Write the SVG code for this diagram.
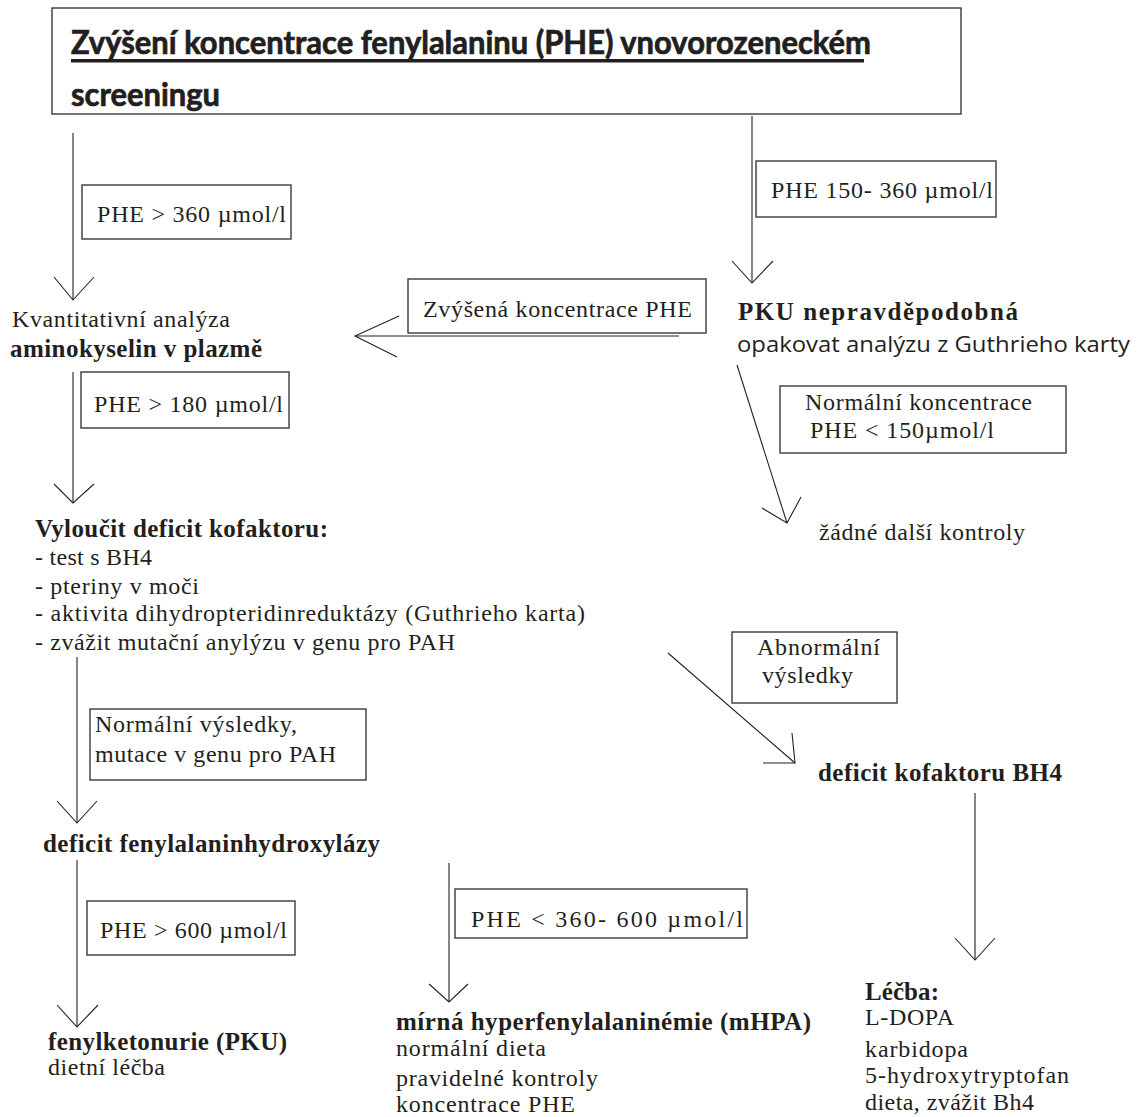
<svg xmlns="http://www.w3.org/2000/svg" width="1147" height="1117" viewBox="0 0 1147 1117">
<style>
  .bg { fill: #ffffff; }
  .box { fill: #ffffff; stroke: #3a3a3a; stroke-width: 1.4; }
  .ln { fill: none; stroke: #222222; stroke-width: 1.1; }
  .head { fill: none; stroke: #222222; stroke-width: 1.1; stroke-linejoin: miter; }
  .t { font-family: "Liberation Serif", "Times New Roman", serif; font-size: 24px; fill: #231f20; }
  .tb { font-family: "Liberation Serif", "Times New Roman", serif; font-size: 25px; font-weight: bold; fill: #231f20; }
  .ts { font-family: "Open Sans", "Noto Sans", sans-serif; font-size: 21px; fill: #231f20; }
  .title { font-family: Lato, "Open Sans", sans-serif; font-size: 32px; font-weight: bold; fill: #231f20; stroke: #231f20; stroke-width: 0.7; }
</style>
<rect class="bg" x="0" y="0" width="1147" height="1117"/>

<g id="connectors">
  <line class="ln" x1="73" y1="133" x2="73" y2="300"/>
  <polyline class="head" points="54,277 73,300 94,277"/>
  <line class="ln" x1="752" y1="116" x2="752" y2="283"/>
  <polyline class="head" points="732,261 752,283 773,261"/>
  <line class="ln" x1="679" y1="336" x2="355" y2="336"/>
  <polyline class="head" points="399,316 355,336 397,357"/>
  <line class="ln" x1="73" y1="372" x2="73" y2="503"/>
  <polyline class="head" points="54,484 73,503 94,484"/>
  <line class="ln" x1="737" y1="365" x2="787" y2="523"/>
  <polyline class="head" points="762,508 787,523 801,497"/>
  <line class="ln" x1="77" y1="657" x2="77" y2="823"/>
  <polyline class="head" points="57,801 77,823 97,801"/>
  <line class="ln" x1="668" y1="653" x2="795" y2="763"/>
  <polyline class="head" points="792,733 795,763 763,763"/>
  <line class="ln" x1="77" y1="860" x2="77" y2="1027"/>
  <polyline class="head" points="57,1005 77,1027 98,1005"/>
  <line class="ln" x1="449" y1="863" x2="449" y2="1002"/>
  <polyline class="head" points="429,984 449,1002 468,984"/>
  <line class="ln" x1="975" y1="793" x2="975" y2="960"/>
  <polyline class="head" points="955,938 975,960 995,938"/>
</g>

<g id="node-title">
  <rect class="box" x="52" y="8" width="909" height="106"/>
  <text class="title" x="71" y="54" textLength="800" lengthAdjust="spacingAndGlyphs">Zvýšení koncentrace fenylalaninu (PHE) vnovorozeneckém</text>
  <rect x="71" y="59" width="793" height="3.5" fill="#231f20"/>
  <text class="title" x="71" y="106" textLength="149" lengthAdjust="spacingAndGlyphs">screeningu</text>
</g>

<g id="label-phe360">
  <rect class="box" x="82" y="185" width="209" height="54"/>
  <text class="t" x="97" y="222" textLength="189">PHE &gt; 360 µmol/l</text>
</g>

<g id="label-phe150-360">
  <rect class="box" x="756" y="161" width="240" height="56"/>
  <text class="t" x="771" y="198" textLength="222">PHE 150- 360 µmol/l</text>
</g>

<g id="node-kvantitativni">
  <text class="t" x="12" y="327" textLength="218">Kvantitativní analýza</text>
  <text class="tb" x="10" y="357" textLength="252">aminokyselin v plazmě</text>
</g>

<g id="label-zvysena">
  <rect class="box" x="408" y="279" width="298" height="54"/>
  <text class="t" x="423" y="317" textLength="269">Zvýšená koncentrace PHE</text>
</g>

<g id="node-pku-nepravdepodobna">
  <text class="tb" x="738" y="320" font-size="27" textLength="280">PKU nepravděpodobná</text>
  <text class="ts" x="737" y="352" textLength="393" lengthAdjust="spacingAndGlyphs">opakovat analýzu z Guthrieho karty</text>
</g>

<g id="label-phe180">
  <rect class="box" x="81" y="372" width="208" height="56"/>
  <text class="t" x="94" y="412" textLength="189">PHE &gt; 180 µmol/l</text>
</g>

<g id="label-normalni-koncentrace">
  <rect class="box" x="780" y="386" width="286" height="67"/>
  <text class="t" x="805" y="410" textLength="227">Normální koncentrace</text>
  <text class="t" x="810" y="438" textLength="184">PHE &lt; 150µmol/l</text>
</g>

<g id="node-zadne-dalsi">
  <text class="t" x="819" y="540" textLength="206">žádné další kontroly</text>
</g>

<g id="node-vyloucit">
  <text class="tb" x="35" y="537" textLength="293">Vyloučit deficit kofaktoru:</text>
  <text class="t" x="35" y="565" textLength="117">- test s BH4</text>
  <text class="t" x="35" y="594" textLength="164">- pteriny v moči</text>
  <text class="t" x="35" y="621" textLength="550">- aktivita dihydropteridinreduktázy (Guthrieho karta)</text>
  <text class="t" x="35" y="650" textLength="420">- zvážit mutační anylýzu v genu pro PAH</text>
</g>

<g id="label-abnormalni">
  <rect class="box" x="732" y="632" width="165" height="71"/>
  <text class="t" x="757" y="655" textLength="123">Abnormální</text>
  <text class="t" x="762" y="683" textLength="91">výsledky</text>
</g>

<g id="node-deficit-bh4">
  <text class="tb" x="818" y="781" textLength="244">deficit kofaktoru BH4</text>
</g>

<g id="label-normalni-vysledky">
  <rect class="box" x="90" y="709" width="276" height="71"/>
  <text class="t" x="95" y="732" textLength="202">Normální výsledky,</text>
  <text class="t" x="95" y="762" textLength="241">mutace v genu pro PAH</text>
</g>

<g id="node-deficit-pah">
  <text class="tb" x="43" y="852" textLength="337">deficit fenylalaninhydroxylázy</text>
</g>

<g id="label-phe600">
  <rect class="box" x="87" y="901" width="208" height="54"/>
  <text class="t" x="100" y="938" textLength="187">PHE &gt; 600 µmol/l</text>
</g>

<g id="label-phe360-600">
  <rect class="box" x="455" y="889" width="292" height="49"/>
  <text class="t" x="471" y="927" textLength="272">PHE &lt; 360- 600 µmol/l</text>
</g>

<g id="node-pku">
  <text class="tb" x="48" y="1050" textLength="239">fenylketonurie (PKU)</text>
  <text class="t" x="48" y="1075" textLength="117">dietní léčba</text>
</g>

<g id="node-mhpa">
  <text class="tb" x="396" y="1030" textLength="415">mírná hyperfenylalaninémie (mHPA)</text>
  <text class="t" x="396" y="1056" textLength="150">normální dieta</text>
  <text class="t" x="396" y="1086" textLength="202">pravidelné kontroly</text>
  <text class="t" x="396" y="1112" textLength="179">koncentrace PHE</text>
</g>

<g id="node-lecba">
  <text class="tb" x="865" y="1000" textLength="74">Léčba:</text>
  <text class="t" x="865" y="1025" textLength="89">L-DOPA</text>
  <text class="t" x="865" y="1057" textLength="103">karbidopa</text>
  <text class="t" x="865" y="1083" textLength="204">5-hydroxytryptofan</text>
  <text class="t" x="865" y="1110" textLength="169">dieta, zvážit Bh4</text>
</g>
</svg>
